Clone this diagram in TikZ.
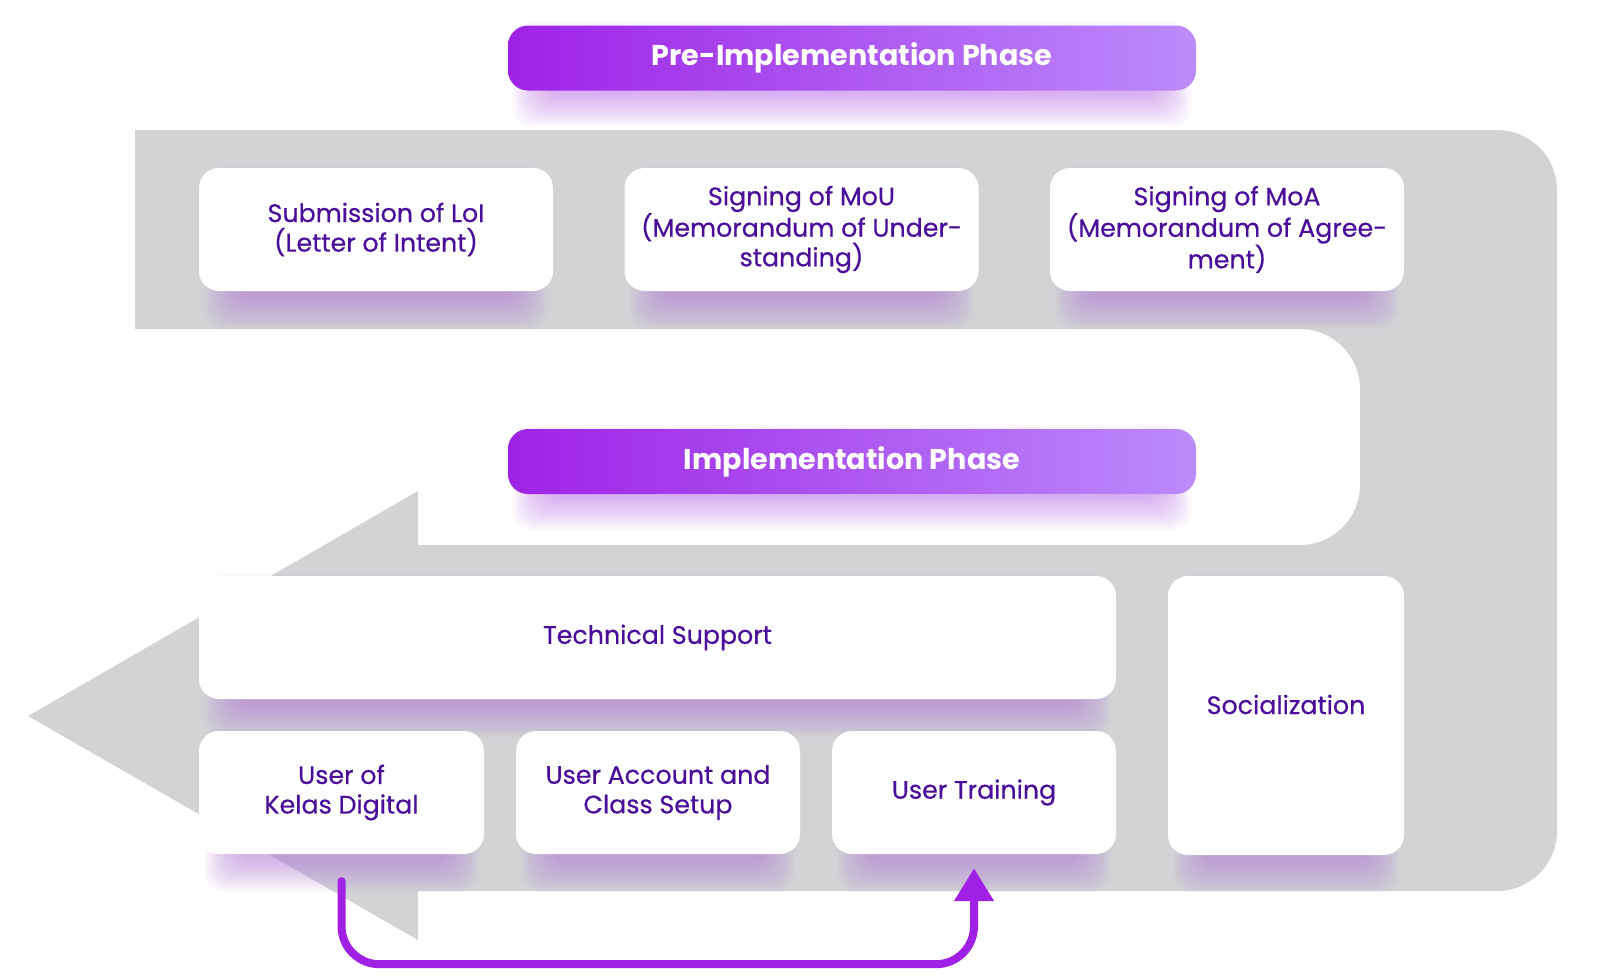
\documentclass[tikz,border=0pt]{standalone}
\usepackage{fontspec}
\setmainfont{Poppins}
\newfontfamily\popmed{Poppins}[FakeBold=0.5]
\usetikzlibrary{arrows.meta,calc}
\definecolor{graybg}{HTML}{D2D3D5}
\definecolor{txt}{HTML}{4A0E9A}
\definecolor{barL}{HTML}{9E22E6}
\definecolor{barR}{HTML}{BC8BFB}
\definecolor{arrowc}{HTML}{A020E6}
\definecolor{shadc}{HTML}{B273D9}
\definecolor{glowc}{HTML}{B454F2}
\pgfdeclarelayer{back}
\pgfdeclarelayer{shad}
\pgfsetlayers{back,shad,main}
\tikzset{
  boxfont/.style={text=txt, font=\popmed\fontsize{25.3}{29.6}\selectfont},
  box/.style={fill=white, rounded corners=20pt, align=center, boxfont, inner sep=0pt},
  bar/.style={left color=barL, right color=barR, rounded corners=20pt, text=white,
    font=\fontsize{28.6}{33}\selectfont\bfseries, minimum width=688pt,
    minimum height=65pt, inner sep=0pt},
  flow/.style={draw=arrowc, line width=8pt, line cap=round, rounded corners=38pt,
    -{Triangle[width=38pt,length=33pt]}},
}
\newcommand{\softshadow}[4]{%
  \begin{pgfonlayer}{shad}
  \foreach \e in {0,2,...,32} {
    \fill[#2, opacity=#4, rounded corners=20pt]
      ($(#1.south west)+(37-\e,#3+\e-12)$) rectangle ($(#1.north east)+(\e-37,#3+12-\e)$);
  }
  \end{pgfonlayer}
}
\begin{document}
\begin{tikzpicture}[x=1pt,y=-1pt]
\useasboundingbox (0,0) rectangle (1603,978);

% big gray U-turn arrow
\begin{pgfonlayer}{back}
\fill[white] (0,0) rectangle (1603,978);
\fill[graybg] (135,130) -- (1497,130) arc[start angle=-90,end angle=0,radius=60]
  -- (1557,831) arc[start angle=0,end angle=90,radius=60]
  -- (418,891) -- (418,940) -- (28,716) -- (418,491) -- (418,545)
  -- (1300,545) arc[start angle=90,end angle=0,radius=60]
  -- (1360,389) arc[start angle=0,end angle=-90,radius=60]
  -- (135,329) -- cycle;
\end{pgfonlayer}

% phase bars
\node[bar] (pre) at (852,58) {Pre-Implementation Phase};
\node[bar] (impl) at (852,461.5) {Implementation Phase};

% pre-implementation boxes
\node[box, minimum width=354pt, minimum height=123pt] (loi) at (376,229.5)
  {Submission of LoI\\(Letter of Intent)};
\node[box, minimum width=354pt, minimum height=123pt] (mou) at (801.5,229.5)
  {Signing of MoU\\(Memorandum of Under-\\standing)};
\node[box, minimum width=354pt, minimum height=123pt] (moa) at (1227,229.5)
  {Signing of MoA\\(Memorandum of Agree-\\ment)};

% implementation boxes
\node[box, minimum width=917pt, minimum height=123pt] (tech) at (657.5,637.5)
  {Technical Support};
\node[box, minimum width=236pt, minimum height=279pt] (soc) at (1286,715.5) {};
\node[boxfont] (soclabel) at ([yshift=11pt]soc.center) {Socialization};
\node[box, minimum width=285pt, minimum height=123pt] (user) at (341.5,792.5)
  {User of\\Kelas Digital};
\node[box, minimum width=284pt, minimum height=123pt] (acct) at (658,792.5)
  {User Account and\\Class Setup};
\node[box, minimum width=284pt, minimum height=123pt] (train) at (974,792.5)
  {User Training};

% shadows
\softshadow{pre}{glowc}{16}{0.03}
\softshadow{impl}{glowc}{16}{0.03}
\softshadow{loi}{shadc}{18}{0.04}
\softshadow{mou}{shadc}{18}{0.04}
\softshadow{moa}{shadc}{18}{0.04}
\softshadow{tech}{shadc}{18}{0.04}
\softshadow{soc}{shadc}{18}{0.04}
\softshadow{user}{shadc}{18}{0.04}
\softshadow{acct}{shadc}{18}{0.04}
\softshadow{train}{shadc}{18}{0.04}

% feedback arrow
\draw[flow] ([yshift=-27pt]user.south) |- ([yshift=-110pt]train.south)
  -- ([yshift=-14pt]train.south);
\end{tikzpicture}
\end{document}
